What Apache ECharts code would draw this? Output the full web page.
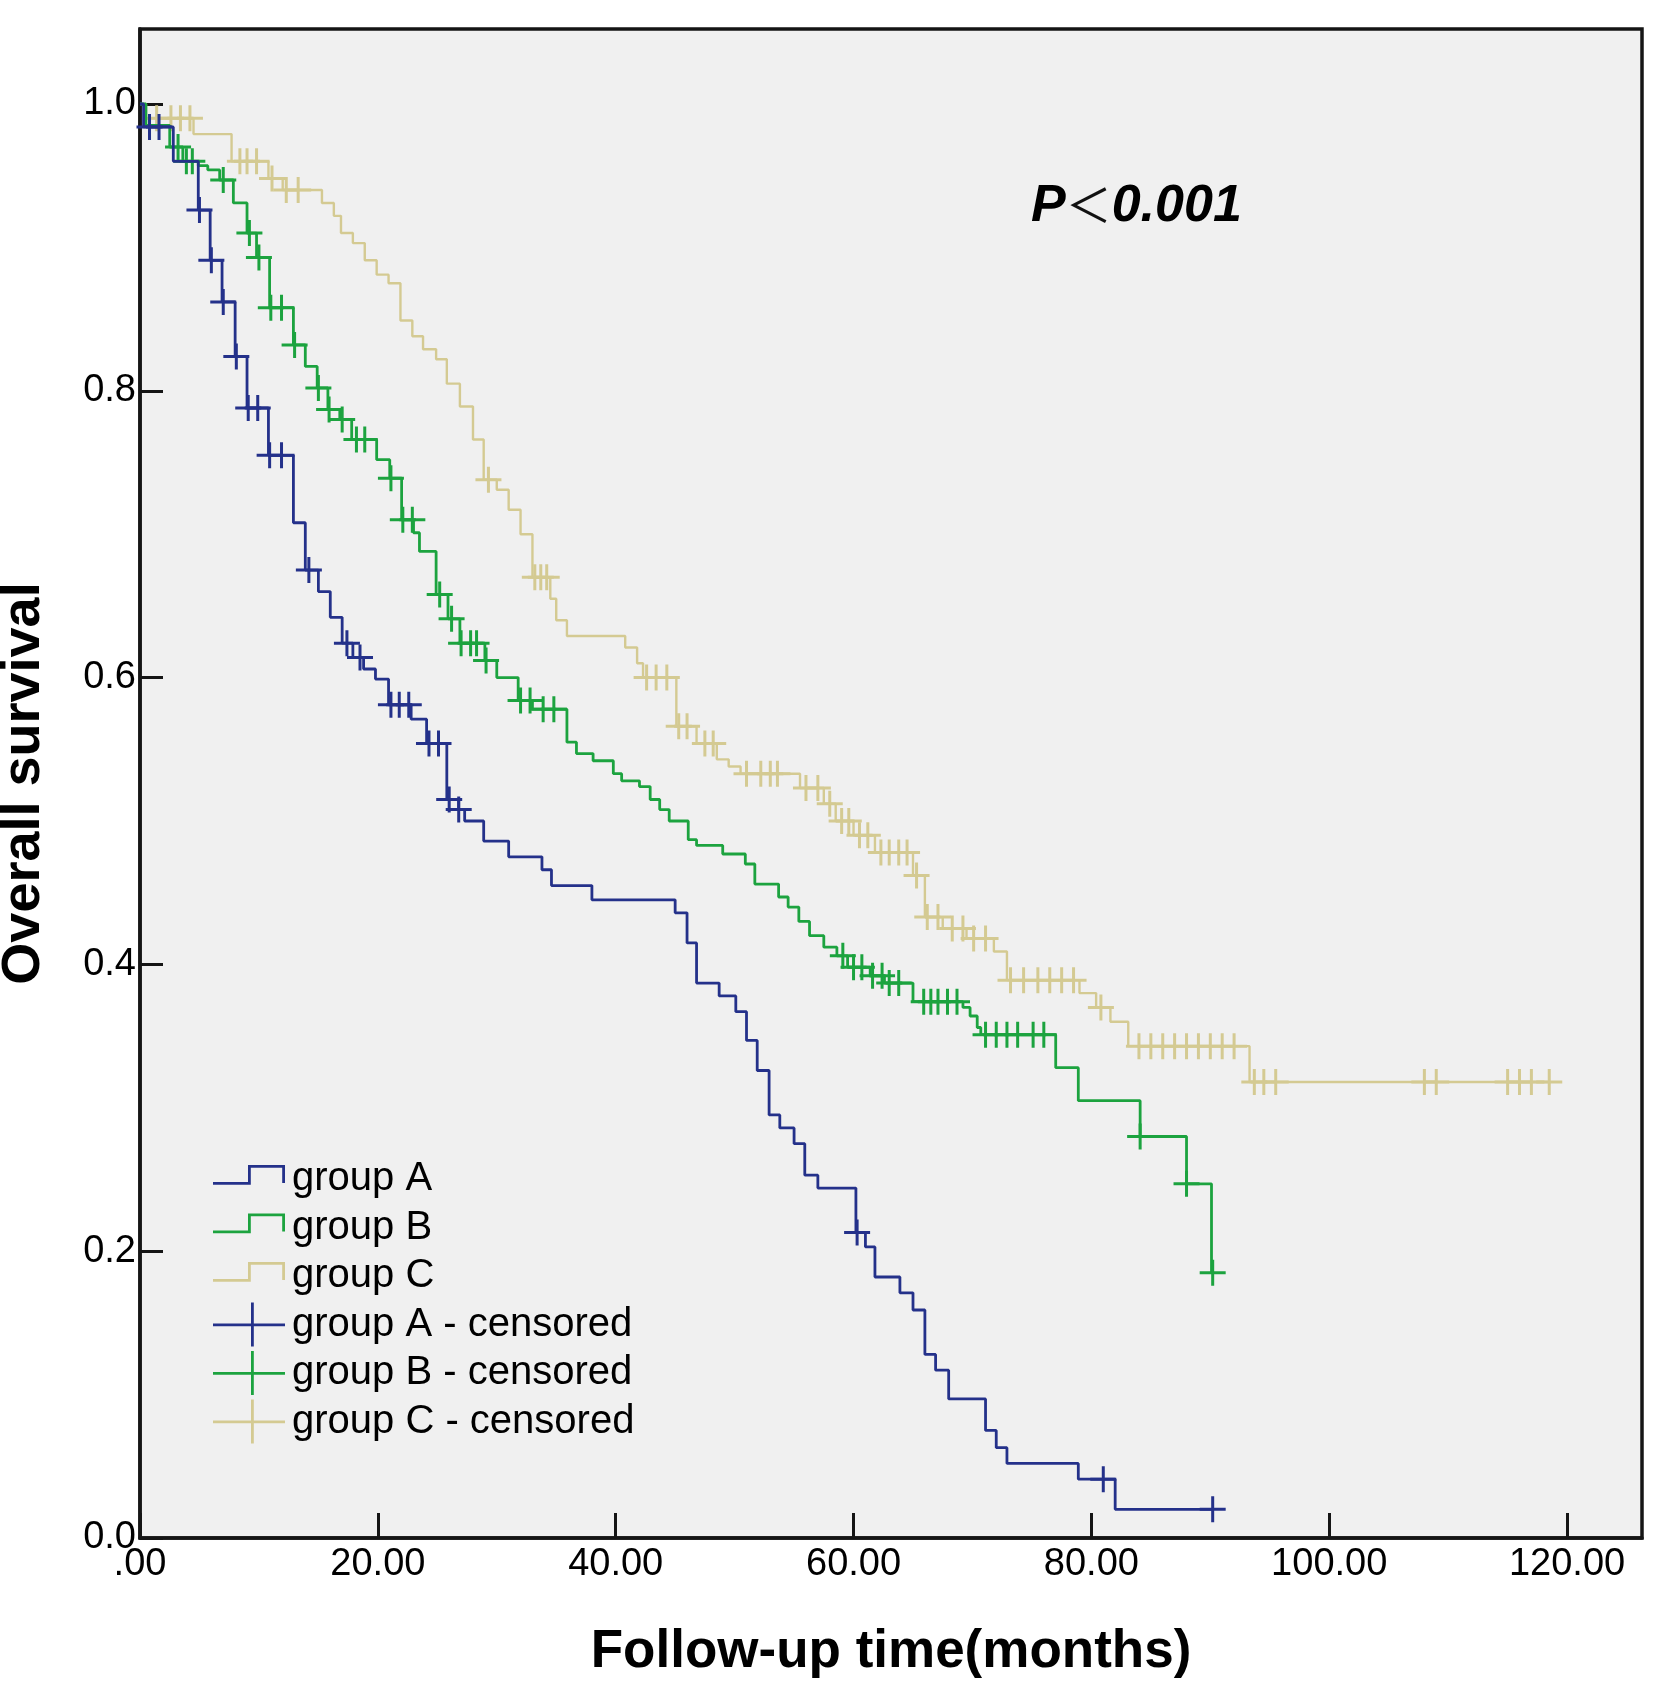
<!DOCTYPE html>
<html>
<head>
<meta charset="utf-8">
<script src="https://cdn.jsdelivr.net/npm/echarts@6/dist/echarts.min.js"></script>
<style>
html,body{margin:0;padding:0;background:#ffffff;}
#chart{width:1654px;height:1682px;}
</style>
</head>
<body>
<div id="chart"></div>
<script>
// ---------- data ----------
const xTickValues = [0, 20, 40, 60, 80, 100, 120];
const xTickLabels = ['.00', '20.00', '40.00', '60.00', '80.00', '100.00', '120.00'];
const yTickValues = [0, 0.2, 0.4, 0.6, 0.8, 1.0];
const yTickLabels = ['0.0', '0.2', '0.4', '0.6', '0.8', '1.0'];

const groupNames = ['group A', 'group B', 'group C'];
const censorNames = ['group A - censored', 'group B - censored', 'group C - censored'];

// Kaplan-Meier steps: [time (months), survival from that time on]
const groupASteps = [[0,1.0],[0.3,0.984],[2.8,0.960],[4.9,0.926],[5.9,0.891],[6.9,0.862],[8.0,0.824],[9.0,0.788],[10.8,0.755],[12.9,0.708],[13.9,0.675],[15.0,0.660],[16.0,0.642],[17.0,0.624],[17.9,0.614],[18.8,0.606],[19.8,0.599],[20.9,0.581],[22.8,0.571],[24.1,0.554],[25.8,0.515],[26.8,0.508],[27.3,0.500],[28.9,0.486],[31.0,0.475],[33.8,0.466],[34.6,0.455],[38.0,0.445],[45.0,0.436],[46.0,0.415],[46.8,0.387],[48.7,0.378],[50.1,0.367],[51.0,0.347],[51.9,0.326],[52.9,0.295],[53.8,0.286],[55.0,0.275],[55.9,0.253],[57.0,0.244],[60.2,0.213],[61.0,0.203],[61.8,0.182],[63.9,0.171],[65.0,0.159],[66.0,0.128],[66.9,0.117],[68.0,0.097],[71.1,0.075],[72.0,0.063],[72.9,0.052],[78.9,0.041],[82.0,0.020],[90.2,0.020]];
const groupBSteps = [[0,1.0],[0.5,0.985],[2.5,0.970],[3.6,0.960],[4.9,0.957],[5.7,0.954],[6.7,0.947],[7.85,0.931],[9.0,0.910],[9.8,0.893],[10.9,0.858],[12.9,0.832],[13.9,0.817],[14.9,0.802],[15.8,0.787],[16.8,0.780],[17.8,0.766],[19.9,0.752],[21.0,0.739],[22.0,0.710],[23.0,0.701],[23.5,0.688],[24.9,0.658],[25.9,0.641],[26.9,0.624],[29.0,0.612],[30.0,0.600],[31.8,0.584],[33.0,0.578],[35.9,0.555],[36.7,0.547],[38.1,0.542],[39.8,0.533],[40.5,0.528],[42.0,0.524],[42.9,0.515],[43.7,0.508],[44.5,0.500],[46.1,0.487],[46.8,0.483],[49.0,0.477],[50.9,0.470],[51.7,0.456],[53.7,0.447],[54.5,0.440],[55.4,0.430],[56.3,0.420],[57.5,0.412],[58.6,0.406],[59.5,0.398],[61.4,0.392],[62.6,0.387],[65.0,0.374],[69.2,0.370],[69.8,0.364],[70.4,0.356],[70.7,0.351],[77.0,0.328],[78.9,0.305],[84.1,0.280],[88.0,0.247],[90.1,0.185],[90.2,0.185]];
const groupCSteps = [[0,1.0],[0.5,0.990],[4.5,0.979],[7.7,0.960],[10.8,0.948],[12.0,0.940],[15.3,0.931],[16.3,0.922],[16.9,0.910],[17.9,0.903],[18.9,0.891],[19.9,0.881],[20.9,0.875],[21.9,0.849],[22.9,0.838],[23.8,0.829],[24.9,0.822],[25.8,0.805],[26.9,0.789],[28.0,0.766],[28.9,0.738],[30.0,0.731],[31.0,0.717],[32.0,0.700],[33.0,0.670],[34.5,0.655],[35.0,0.640],[35.9,0.629],[40.8,0.621],[41.8,0.610],[42.3,0.600],[45.1,0.566],[46.8,0.554],[48.5,0.543],[49.5,0.538],[50.5,0.533],[55.5,0.523],[57.5,0.512],[58.5,0.500],[60.0,0.490],[61.8,0.478],[65.0,0.462],[66.0,0.433],[67.5,0.425],[69.5,0.418],[71.8,0.409],[72.9,0.389],[79.0,0.380],[80.4,0.370],[81.6,0.360],[83.1,0.343],[93.3,0.318],[118.5,0.318]];

// censoring times (months)
const groupACensored = [0.8,1.6,5.0,6.0,7.0,8.1,9.1,9.9,10.9,11.9,14.2,17.4,18.5,21.1,21.8,22.6,24.3,25.1,26.0,26.8,60.3,81.0,90.2];
const groupBCensored = [3.2,3.9,4.4,7.0,9.2,10.0,11.0,11.9,13.0,15.0,15.9,17.0,18.2,18.9,21.1,22.1,22.9,25.2,26.2,27.0,27.8,28.3,29.1,32.0,32.8,33.9,34.8,59.1,60.0,60.7,61.6,62.4,63.0,63.8,65.9,66.5,67.1,67.9,68.7,71.1,72.0,72.9,73.8,75.1,76.0,84.1,88.0,90.2];
const groupCCensored = [1.4,2.6,3.4,4.2,8.4,9.0,9.8,11.1,12.3,13.3,29.3,33.2,33.7,34.2,42.6,43.4,44.3,45.3,46.0,47.5,48.2,51.0,52.2,53.0,53.6,56.0,57.0,58.0,59.0,59.6,60.5,61.2,62.3,63.0,63.8,64.5,65.3,66.2,67.1,68.3,69.2,70.1,71.1,73.2,74.3,75.5,76.5,77.5,78.5,80.8,84.0,85.0,86.0,87.0,88.0,89.0,90.0,91.0,92.0,93.7,94.5,95.5,108.0,109.0,115.0,116.0,117.0,118.5];

const groupColors = ['#24318a', '#1ca33f', '#d4ca92'];

// ---------- helpers ----------
function survivalAt(steps, t) {
  let s = steps[0][1];
  for (const p of steps) { if (p[0] <= t + 1e-9) s = p[1]; else break; }
  return s;
}
function censorPoints(steps, times) { return times.map(t => [t, survivalAt(steps, t)]); }

const plusSymbol = 'path://M-1.5,-13L1.5,-13L1.5,-1.5L13,-1.5L13,1.5L1.5,1.5L1.5,13L-1.5,13L-1.5,1.5L-13,1.5L-13,-1.5L-1.5,-1.5Z';
const stepIcon = 'path://M0,0L0.01,0L0.01,0.01Z M71.99,44L72,44L72,43.99Z M0,25L35,25L35,8L72,8L72,26L69.2,26L69.2,10.8L37.8,10.8L37.8,27.8L0,27.8Z';
const censorIcon = 'path://M0,21L38,21L38,0L40.8,0L40.8,21L72,21L72,23.8L40.8,23.8L40.8,44L38,44L38,23.8L0,23.8Z';

const allSteps = [groupASteps, groupBSteps, groupCSteps];
const allCensored = [groupACensored, groupBCensored, groupCCensored];
const zOrder = [5, 4, 3];

const series = [];
for (let i = 0; i < 3; i++) {
  series.push({
    name: groupNames[i], type: 'line', step: 'end', data: allSteps[i],
    symbol: 'none', silent: true, z: zOrder[i],
    lineStyle: { color: groupColors[i], width: i === 2 ? 2.4 : 2.8 },
    itemStyle: { color: groupColors[i] },
    emphasis: { disabled: true }
  });
}
for (let i = 0; i < 3; i++) {
  series.push({
    name: censorNames[i], type: 'scatter', data: censorPoints(allSteps[i], allCensored[i]),
    symbol: plusSymbol, symbolSize: 26, silent: true, z: zOrder[i],
    itemStyle: { color: groupColors[i], opacity: 1 },
    emphasis: { disabled: true }
  });
}

const legendData = [];
for (let i = 0; i < 3; i++) legendData.push({ name: groupNames[i], icon: stepIcon, itemStyle: { color: groupColors[i], borderWidth: 0 } });
for (let i = 0; i < 3; i++) legendData.push({ name: censorNames[i], icon: censorIcon, itemStyle: { color: groupColors[i], borderWidth: 0 } });

const FONT = '"Liberation Sans", Arial, sans-serif';

const chart = echarts.init(document.getElementById('chart'), null, { renderer: 'canvas' });
chart.setOption({
  animation: false,
  backgroundColor: '#ffffff',
  title: {
    text: '{p|P}{lt|＜}{n|0.001}',
    left: 1026, top: 176,
    textStyle: {
      rich: {
        p: { fontFamily: FONT, fontWeight: 'bold', fontStyle: 'italic', fontSize: 52, color: '#000' },
        lt: { fontFamily: '"Noto Sans CJK SC", sans-serif', fontWeight: 'normal', fontSize: 46, color: '#111', padding: [0, 0, 4, 0] },
        n: { fontFamily: FONT, fontWeight: 'bold', fontStyle: 'italic', fontSize: 52, color: '#000' }
      }
    }
  },
  legend: {
    orient: 'vertical', left: 208, top: 1152,
    itemWidth: 72, itemHeight: 44, itemGap: 4.5,
    selectedMode: false,
    data: legendData,
    textStyle: { fontFamily: FONT, fontSize: 40, color: '#000', padding: [0, 0, 0, 2], lineHeight: 44 }
  },
  grid: {
    left: 140, top: 29, right: 12, bottom: 144,
    containLabel: false, outerBoundsMode: 'none',
    show: true, backgroundColor: '#f0f0f0', borderColor: '#151515', borderWidth: 3.5
  },
  xAxis: {
    type: 'value', min: 0, max: 126.3,
    name: 'Follow-up time(months)', nameLocation: 'middle', nameGap: 88,
    nameTextStyle: { fontFamily: FONT, fontWeight: 'bold', fontSize: 53, color: '#000' },
    axisLine: { show: true, onZero: false, lineStyle: { color: '#151515', width: 3.5 } },
    axisTick: { show: true, inside: true, length: 25, customValues: xTickValues, lineStyle: { color: '#151515', width: 3 } },
    axisLabel: {
      show: true, margin: 8, customValues: xTickValues,
      fontFamily: FONT, fontSize: 38, color: '#000',
      formatter: v => { const k = xTickValues.indexOf(v); return k >= 0 ? xTickLabels[k] : ''; }
    },
    splitLine: { show: false }
  },
  yAxis: {
    type: 'value', min: 0, max: 1.0523,
    name: 'Overall survival', nameLocation: 'middle', nameGap: 89, nameRotate: 90,
    nameTextStyle: { fontFamily: FONT, fontWeight: 'bold', fontSize: 54, color: '#000' },
    axisLine: { show: true, onZero: false, lineStyle: { color: '#151515', width: 3.5 } },
    axisTick: { show: true, inside: true, length: 23, customValues: yTickValues, lineStyle: { color: '#151515', width: 3 } },
    axisLabel: {
      show: true, margin: 4, customValues: yTickValues,
      fontFamily: FONT, fontSize: 38, color: '#000',
      formatter: v => { let k = -1; yTickValues.forEach((tv, j) => { if (Math.abs(tv - v) < 1e-6) k = j; }); return k >= 0 ? yTickLabels[k] : ''; }
    },
    splitLine: { show: false }
  },
  series: series
});
</script>
</body>
</html>
